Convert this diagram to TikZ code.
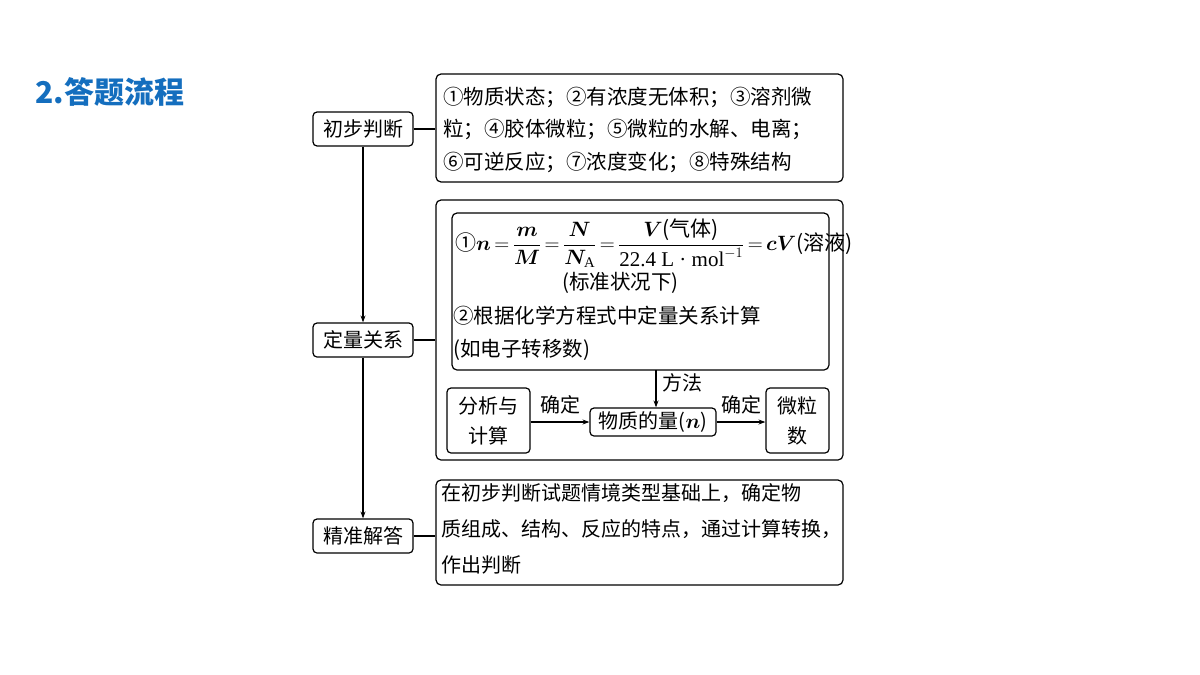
\documentclass[tikz,border=0pt]{standalone}
\usepackage{amsmath,bm}
\usepackage{fontspec}
\setmainfont{Liberation Serif}
\newfontfamily\cjk{Noto Sans CJK SC}
\definecolor{tblue}{RGB}{20,110,190}
\usetikzlibrary{arrows.meta}
\begin{document}
\begin{tikzpicture}[x=1pt,y=-1pt,
  bx/.style={draw,line width=1.2pt,rounded corners=5pt},
  lb/.style={draw,line width=1.2pt,rounded corners=4pt,minimum width=100pt,minimum height=34pt,inner sep=0pt,font=\fontsize{20}{22}\selectfont\cjk},
  tx/.style={anchor=west,inner sep=0pt,font=\fontsize{20.5}{22}\selectfont\cjk},
  ln/.style={line width=1.1pt},
  ar/.style={line width=1.1pt,-{Stealth[length=7pt,width=5pt]}}]
\useasboundingbox (0,0) rectangle (1200,675);
\node[anchor=west,inner sep=0pt,text=tblue,font=\fontsize{30}{32}\selectfont\cjk\bfseries] (title) at (35,92) {2.答题流程};
\node[lb] (a) at (363,129) {初步判断};
\node[lb] (b) at (363,340) {定量关系};
\node[lb] (c) at (363,536) {精准解答};
\draw[ar] (a) -- (b);
\draw[ar] (b) -- (c);
\node[bx,minimum width=407pt,minimum height=108pt] (r1) at (639.5,128) {};
\node[bx,minimum width=407pt,minimum height=260pt] (r2) at (639.5,330) {};
\node[bx,minimum width=407pt,minimum height=105pt] (r3) at (639.5,532.5) {};
\draw[ln] (a.east) -- (a.east -| r1.west);
\draw[ln] (b.east) -- (b.east -| r2.west);
\draw[ln] (c.east) -- (c.east -| r3.west);
\node[tx] at (443,97) {①物质状态；②有浓度无体积；③溶剂微};
\node[tx] at (443,129) {粒；④胶体微粒；⑤微粒的水解、电离；};
\node[tx] at (443,162) {⑥可逆反应；⑦浓度变化；⑧特殊结构};
\node[tx,font=\fontsize{20}{22}\selectfont\cjk] at (441,493) {在初步判断试题情境类型基础上，确定物};
\node[tx,font=\fontsize{20}{22}\selectfont\cjk] at (441,529) {质组成、结构、反应的特点，通过计算转换，};
\node[tx,font=\fontsize{20}{22}\selectfont\cjk] at (441,565) {作出判断};
\node[bx,minimum width=377pt,minimum height=157pt] (in) at (640.5,291.5) {};
\node[tx,font=\fontsize{21}{22}\selectfont] at (455,243) {{\cjk ①}$\bm{n}\,\mathbf{=}\,\dfrac{\bm m}{\bm M}\,\mathbf{=}\,\dfrac{\bm N}{\bm N_{\mathrm A}}\,\mathbf{=}\,\dfrac{\bm V\text{\cjk(气体)}}{\text{22.4 L · mol}^{-1}}\,\mathbf{=}\,\bm{cV}\text{\cjk(溶液)}$};
\node[tx] at (562,283) {(标准状况下)};
\node[tx] at (453,316) {②根据化学方程式中定量关系计算};
\node[tx] at (453,350) {(如电子转移数)};
\node[lb,minimum width=83pt,minimum height=65pt,align=center,font=\fontsize{20}{30}\selectfont\cjk] (s1) at (488.5,420.5) {分析与\\计算};
\node[lb,minimum width=126pt,minimum height=28pt] (s2) at (653,422) {物质的量($\bm n$)};
\node[lb,minimum width=63pt,minimum height=65pt,align=center,font=\fontsize{20}{30}\selectfont\cjk] (s3) at (797.5,420.5) {微粒\\数};
\draw[ar] (s1.east |- s2) -- node[above=4pt,font=\fontsize{20}{22}\selectfont\cjk]{确定} (s2);
\draw[ar] (s2) -- node[above=4pt,font=\fontsize{20}{22}\selectfont\cjk]{确定} (s2 -| s3.west);
\coordinate (m) at (656,370);
\draw[ar] (m) -- (m |- s2.north) node[pos=0.35,right=3pt,font=\fontsize{20}{22}\selectfont\cjk]{方法};
\end{tikzpicture}
\end{document}
